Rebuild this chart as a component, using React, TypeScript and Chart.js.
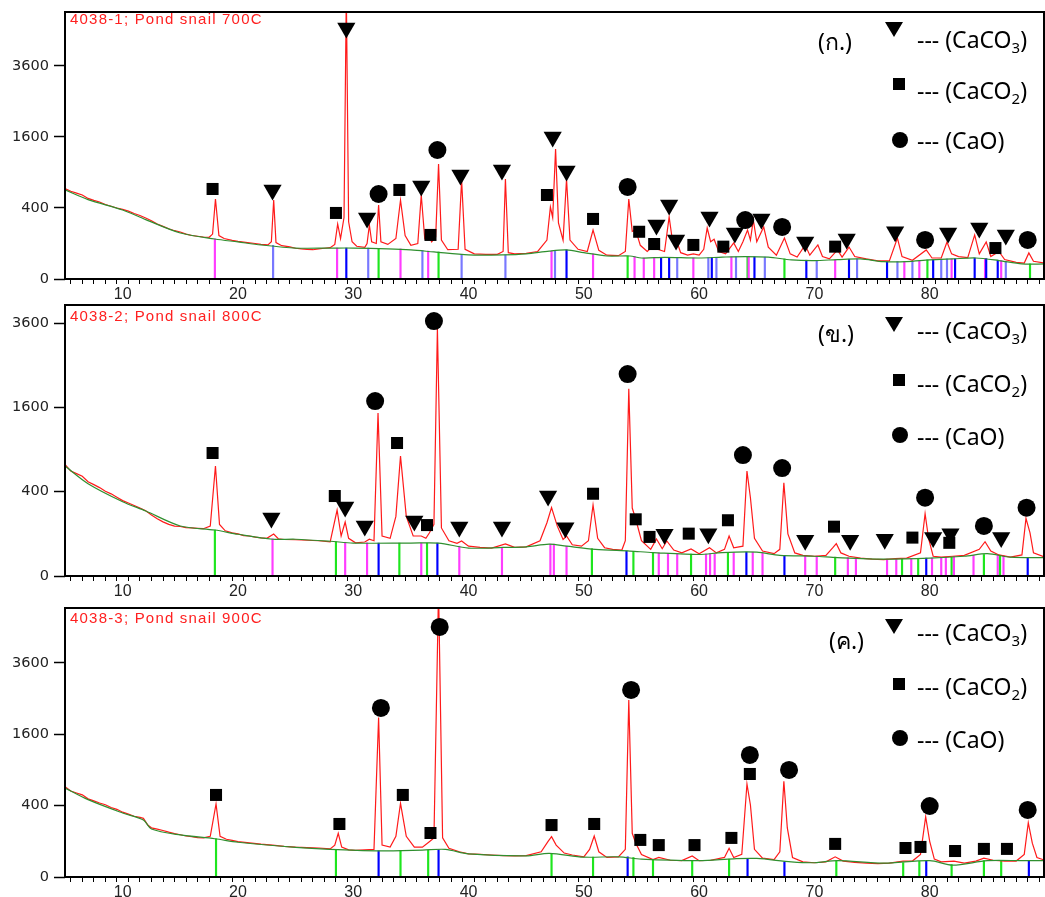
import React, { useEffect, useRef } from 'react';
import { Chart, registerables } from 'chart.js';

Chart.register(...registerables);

// ---------------- data ----------------
const xRange = [5, 90];
const xTickLabels = [10, 20, 30, 40, 50, 60, 70, 80];
const yTickLabels = [0, 400, 1600, 3600];

const sampleNames = ['4038-1; Pond snail 700C', '4038-2; Pond snail 800C', '4038-3; Pond snail 900C'];
const panelTags = ['(ก.)', '(ข.)', '(ค.)'];
const legendTexts = ['--- (CaCO', '--- (CaCO', '--- (CaO'];
const legendSubs = ['3', '2', ''];

// reference-card colours of the stick patterns
const cardColors: Record<string, string> = { M: '#ff3cff', B: '#0000ff', L: '#7878ff', G: '#1ee61e' };

// ---- 700C ----
const bg700: [number, number][] = [
  [5, 630], [7, 500], [10, 378], [12, 280], [15, 168], [18, 127], [20, 109], [22, 92], [25, 76], [28, 76], [30, 76],
  [33, 72], [35, 67], [37, 58], [40, 46], [43, 46], [45, 50], [47, 62], [48.5, 67], [50, 55], [52, 42], [54, 42],
  [55, 35], [57, 37], [60, 35], [62, 38], [64, 40], [66, 38], [68, 29], [70, 27], [72, 30], [74, 32], [76, 24],
  [78, 24], [80, 29], [82, 32], [84, 35], [86, 27], [88, 18], [90, 18],
];
const line700: [number, number][] = [
  [5, 650], [5.5, 610], [6, 585], [6.5, 560], [7, 515], [7.5, 490], [8, 470], [8.5, 440], [9, 420], [9.5, 400],
  [10, 385], [10.5, 365], [11, 340], [11.5, 320], [12, 295], [12.5, 270], [13, 240], [13.5, 220], [14, 200],
  [14.5, 185], [15, 175], [15.5, 160], [16, 150], [16.5, 145], [17, 140], [17.5, 138], [17.8, 160], [18.05, 508],
  [18.35, 150], [18.8, 130], [19.5, 118], [20, 112], [20.5, 108], [21, 104], [21.5, 100], [22, 95], [22.6, 92],
  [22.9, 110], [23.1, 495], [23.3, 105], [23.8, 88], [24.5, 82], [25, 75], [25.5, 72], [26, 70], [26.5, 68],
  [27, 72], [27.5, 75], [28, 78], [28.4, 95], [28.65, 240], [28.9, 130], [29.2, 300], [29.4, 6500], [29.6, 260],
  [29.9, 110], [30.3, 85], [31, 80], [31.2, 100], [31.4, 231], [31.6, 110], [32.0, 100], [32.2, 434], [32.4, 110],
  [33, 95], [33.7, 130], [34.1, 495], [34.5, 150], [35.0, 90], [35.6, 100], [35.9, 560], [36.2, 130], [36.5, 160],
  [36.8, 110], [37.15, 140], [37.4, 1049], [37.65, 120], [38.2, 68], [39.1, 70], [39.4, 778], [39.7, 70],
  [40.5, 50], [41.5, 48], [42.5, 48], [43.0, 60], [43.2, 793], [43.45, 55], [44, 50], [45, 52], [46, 60],
  [46.8, 120], [47.1, 411], [47.3, 300], [47.55, 1341], [47.8, 250], [48.2, 120], [48.5, 793], [48.8, 120],
  [49.5, 70], [50.3, 60], [50.8, 190], [51.3, 65], [52, 45], [53, 43], [53.6, 60], [53.9, 508], [54.2, 180],
  [54.5, 190], [54.9, 90], [55.5, 60], [56.1, 92], [56.4, 70], [57.0, 60], [57.4, 305], [57.7, 110], [58.0, 125],
  [58.4, 55], [59, 45], [59.5, 50], [60, 45], [60.4, 70], [60.7, 206], [61.0, 110], [61.3, 125], [61.7, 60],
  [62.3, 50], [63.0, 103], [63.4, 60], [63.8, 110], [64.2, 190], [64.45, 120], [64.7, 276], [65.0, 110],
  [65.6, 215], [66.0, 80], [66.7, 45], [67.4, 133], [67.9, 50], [68.5, 38], [69.2, 92], [69.6, 45], [70.3, 92],
  [70.7, 40], [71.3, 32], [72.0, 67], [72.4, 38], [73.0, 81], [73.5, 40], [74.5, 32], [75.5, 26], [76.5, 26],
  [77.2, 133], [77.6, 40], [78.5, 28], [79.7, 67], [80.2, 35], [81.0, 35], [81.5, 109], [81.9, 50], [82.5, 40],
  [83.3, 36], [83.9, 154], [84.3, 50], [84.9, 109], [85.3, 40], [86.0, 60], [86.5, 30], [87.5, 22], [88.2, 20],
  [88.6, 54], [89.0, 25], [90, 20],
];
const sticks700: [number, number, string][] = [
  [18.0, 127, 'M'], [23.05, 90, 'L'], [28.6, 76, 'M'], [29.4, 76, 'B'], [31.3, 76, 'L'], [32.2, 74, 'G'],
  [34.1, 72, 'M'], [36.0, 64, 'L'], [36.5, 62, 'M'], [37.4, 58, 'G'], [39.4, 48, 'L'], [43.2, 46, 'L'],
  [47.2, 62, 'M'], [47.5, 64, 'L'], [48.5, 67, 'B'], [50.8, 50, 'M'], [53.8, 42, 'G'], [54.4, 40, 'M'],
  [55.2, 35, 'M'], [56.1, 36, 'M'], [56.7, 37, 'B'], [57.4, 37, 'B'], [58.1, 36, 'L'], [59.5, 35, 'M'],
  [60.8, 36, 'L'], [61.1, 37, 'B'], [61.5, 37, 'L'], [62.8, 39, 'M'], [63.2, 39, 'L'], [64.2, 40, 'G'],
  [64.3, 40, 'M'], [64.8, 39, 'B'], [65.7, 38, 'L'], [67.4, 32, 'G'], [69.3, 28, 'B'], [70.2, 27, 'L'],
  [71.8, 29, 'M'], [73.0, 31, 'B'], [73.7, 32, 'L'], [76.3, 24, 'B'], [77.2, 24, 'L'], [77.8, 24, 'M'],
  [78.5, 25, 'L'], [79.1, 27, 'M'], [79.8, 29, 'G'], [80.3, 29, 'B'], [81.0, 31, 'L'], [81.5, 32, 'L'],
  [81.9, 32, 'M'], [82.2, 32, 'B'], [83.9, 35, 'B'], [84.8, 33, 'M'], [84.9, 33, 'B'], [85.9, 28, 'B'],
  [86.2, 27, 'M'], [86.6, 25, 'L'], [88.7, 18, 'G'],
];
const tri700: [number, number][] = [
  [23.0, 629], [29.4, 5000], [31.2, 295], [35.9, 686], [39.3, 858], [42.9, 942], [47.3, 1600], [48.5, 925],
  [56.3, 231], [57.4, 434], [58.0, 121], [60.9, 305], [63.1, 168], [65.4, 286], [69.2, 109], [72.8, 127],
  [77.0, 177], [81.6, 168], [84.3, 206], [86.6, 154],
];
const sq700: [number, number][] = [
  [17.8, 643], [28.5, 346], [34.0, 629], [36.7, 154], [46.8, 560], [50.8, 286], [54.8, 177], [56.1, 97],
  [59.5, 92], [62.1, 83], [71.8, 83], [85.7, 76],
];
const circ700: [number, number][] = [
  [32.2, 573], [37.3, 1320], [53.8, 672], [64.0, 276], [67.2, 215], [79.6, 121], [88.5, 121],
];

// ---- 800C ----
const bg800: [number, number][] = [
  [5, 681], [7, 480], [10, 311], [12, 238], [15, 141], [18, 119], [20, 98], [23, 76], [25, 76], [28, 68], [30, 61],
  [35, 61], [37.4, 61], [40, 44], [43, 46], [45, 48], [47, 57], [48.5, 50], [51, 40], [54, 35], [56, 31], [60, 26],
  [62, 31], [65, 32], [67, 24], [70, 22], [72, 19], [76, 16], [80, 18], [83, 22], [85, 28], [87, 20], [90, 19],
];
const line800: [number, number][] = [
  [5, 700], [5.5, 620], [6, 590], [6.5, 560], [7, 500], [7.5, 470], [8, 440], [8.5, 405], [9, 380], [9.5, 350],
  [10, 320], [10.5, 300], [11, 280], [11.5, 260], [12, 240], [12.5, 210], [13, 185], [13.5, 165], [14, 150],
  [14.5, 140], [15, 138], [15.5, 132], [16, 130], [16.5, 128], [17, 126], [17.6, 140], [18.05, 681], [18.4, 150],
  [18.9, 115], [19.5, 105], [20, 100], [20.5, 92], [21, 90], [21.5, 85], [22, 82], [22.5, 80], [23.1, 99],
  [23.5, 78], [24, 75], [25, 74], [26, 72], [27, 70], [28, 66], [28.6, 245], [28.95, 90], [29.3, 164], [29.6, 80],
  [30.2, 62], [31, 65], [31.4, 76], [31.8, 70], [32.15, 1495], [32.5, 90], [33.2, 80], [33.7, 200], [34.1, 810],
  [34.6, 200], [35.2, 90], [35.9, 90], [36.3, 80], [36.6, 104], [37.0, 150], [37.3, 3450], [37.65, 130],
  [38.3, 70], [39.0, 60], [39.4, 69], [40, 50], [41, 46], [42, 44], [43.2, 58], [44, 46], [45, 48], [46.2, 70],
  [46.8, 160], [47.2, 263], [47.7, 140], [48.2, 75], [48.5, 90], [49.0, 55], [49.8, 50], [50.4, 70], [50.8, 284],
  [51.2, 80], [51.8, 45], [52.5, 40], [53.3, 38], [53.6, 70], [53.9, 1975], [54.2, 260], [54.5, 183], [55.0, 70],
  [55.8, 40], [56.3, 77], [56.8, 42], [57.2, 69], [57.8, 38], [58.5, 30], [59.3, 41], [60, 28], [60.9, 45],
  [61.5, 30], [62.2, 40], [62.6, 90], [63.0, 45], [63.8, 50], [64.15, 620], [64.45, 345], [64.8, 80], [65.5, 35],
  [66.5, 28], [67.0, 40], [67.35, 490], [67.7, 100], [68.3, 30], [69, 24], [70, 22], [71, 24], [71.6, 45],
  [71.9, 59], [72.3, 30], [73, 22], [74, 18], [75, 16], [76, 15], [77, 17], [78, 18], [79.2, 30], [79.6, 218],
  [79.9, 80], [80.3, 22], [81, 20], [82, 22], [83, 24], [84.3, 40], [84.8, 66], [85.3, 35], [86, 25], [87, 20],
  [88.0, 25], [88.35, 187], [88.7, 105], [89.0, 30], [90, 20],
];
const sticks800: [number, number, string][] = [
  [18.0, 119, 'G'], [23.0, 78, 'M'], [28.5, 66, 'G'], [29.3, 64, 'M'], [31.2, 62, 'M'], [32.2, 61, 'B'],
  [34.0, 61, 'G'], [35.9, 61, 'M'], [36.4, 61, 'G'], [37.3, 61, 'B'], [39.2, 50, 'M'], [42.9, 45, 'M'],
  [47.1, 57, 'M'], [47.4, 57, 'M'], [48.5, 50, 'M'], [50.7, 42, 'G'], [53.7, 35, 'B'], [54.3, 34, 'G'],
  [56.0, 31, 'G'], [56.5, 30, 'M'], [57.3, 29, 'M'], [58.1, 28, 'M'], [59.3, 27, 'G'], [60.6, 27, 'M'],
  [60.95, 28, 'M'], [61.35, 28, 'M'], [62.5, 31, 'G'], [63.0, 31, 'M'], [64.1, 32, 'B'], [64.65, 32, 'M'],
  [65.5, 30, 'M'], [67.4, 24, 'B'], [69.2, 23, 'M'], [70.2, 22, 'M'], [71.8, 20, 'G'], [72.9, 19, 'M'],
  [73.6, 18, 'M'], [76.3, 16, 'M'], [77.1, 16, 'M'], [77.6, 17, 'G'], [78.4, 17, 'M'], [79.0, 17, 'G'],
  [79.7, 18, 'B'], [80.2, 18, 'M'], [81.0, 19, 'M'], [81.4, 20, 'M'], [81.9, 20, 'G'], [82.1, 21, 'M'],
  [83.8, 24, 'M'], [84.7, 26, 'G'], [85.9, 25, 'M'], [86.1, 24, 'G'], [86.4, 23, 'M'], [88.5, 19, 'B'],
];
const tri800: [number, number][] = [
  [22.9, 189], [29.3, 268], [31.0, 141], [35.3, 170], [39.2, 135], [42.9, 135], [46.9, 360], [48.4, 131],
  [57.0, 98], [60.8, 101], [69.2, 72], [73.1, 72], [76.1, 76], [80.3, 83], [81.8, 101], [86.2, 83],
];
const sq800: [number, number][] = [
  [17.8, 852], [28.4, 360], [33.8, 996], [36.4, 146], [50.8, 381], [54.5, 181], [55.7, 86], [59.1, 101],
  [62.5, 175], [71.7, 137], [78.5, 83], [81.7, 62],
];
const circ800: [number, number][] = [
  [31.9, 1723], [37.0, 3660], [53.8, 2296], [63.8, 824], [67.2, 656], [79.6, 345], [84.7, 141], [88.4, 263],
];

// ---- 900C ----
const bg900: [number, number][] = [
  [5, 622], [7, 470], [10, 322], [11.8, 255], [12.5, 181], [15, 139], [18, 115], [20, 95], [25, 69], [28, 60],
  [32, 54], [36, 57], [38, 60], [40, 42], [45, 35], [47, 44], [50, 31], [53, 32], [55, 25], [60, 21], [63, 26],
  [65, 27], [68, 18], [70, 16], [72, 21], [76, 15], [80, 21], [82, 11], [85, 21], [88, 21], [90, 21],
];
const line900: [number, number][] = [
  [5, 640], [5.5, 580], [6, 555], [6.5, 530], [7, 480], [7.5, 455], [8, 430], [8.5, 410], [9, 380], [9.5, 360],
  [10, 330], [10.5, 310], [11, 290], [11.5, 280], [11.8, 270], [12.2, 210], [12.5, 190], [13, 180], [13.5, 170],
  [14, 158], [14.5, 148], [15, 140], [15.5, 132], [16, 128], [16.5, 122], [17, 120], [17.6, 130], [18.1, 419],
  [18.45, 130], [19, 112], [19.5, 105], [20, 98], [21, 92], [22, 85], [23, 80], [24, 74], [25, 70], [26, 68],
  [27, 66], [28, 62], [28.4, 80], [28.7, 150], [29.0, 70], [29.6, 58], [30.2, 56], [31.0, 58], [31.8, 60],
  [32.2, 2000], [32.5, 80], [33.2, 70], [33.7, 130], [34.1, 427], [34.6, 130], [35.3, 70], [36.0, 70], [36.6, 98],
  [37.0, 120], [37.4, 6500], [37.75, 120], [38.3, 65], [39.2, 50], [40, 42], [41, 40], [42, 38], [43, 36],
  [44, 35], [45, 36], [46.3, 50], [46.9, 100], [47.2, 128], [47.6, 80], [48.3, 45], [49, 38], [50, 32],
  [50.5, 60], [50.9, 132], [51.3, 50], [52, 30], [53, 32], [53.6, 60], [53.9, 2460], [54.2, 150], [54.5, 91],
  [55, 40], [56, 24], [56.5, 30], [57.5, 22], [58.5, 21], [59.4, 35], [60, 21], [61, 22], [62.2, 30], [62.6, 65],
  [63.0, 30], [63.7, 40], [64.15, 680], [64.45, 407], [64.8, 60], [65.5, 28], [66.5, 24], [67.0, 50],
  [67.35, 720], [67.65, 189], [68.1, 30], [69, 18], [70, 16], [71, 18], [71.8, 32], [72.5, 20], [73.5, 17],
  [74.5, 15], [75.5, 14], [76.5, 15], [77.7, 20], [78.5, 20], [79.2, 40], [79.65, 286], [80.0, 100], [80.4, 25],
  [81, 18], [82.1, 20], [83, 15], [84, 20], [84.7, 28], [85.5, 22], [86.5, 20], [87.5, 20], [88.2, 40],
  [88.55, 232], [88.9, 90], [89.3, 30], [90, 22],
];
const sticks900: [number, number, string][] = [
  [18.1, 115, 'G'], [28.5, 60, 'G'], [32.2, 54, 'B'], [34.1, 55, 'G'], [36.5, 57, 'G'], [37.4, 58, 'B'],
  [47.2, 44, 'G'], [50.8, 31, 'G'], [53.8, 32, 'B'], [54.3, 30, 'G'], [56.0, 24, 'G'], [59.4, 21, 'G'],
  [62.6, 25, 'G'], [64.2, 27, 'B'], [67.4, 18, 'B'], [71.9, 20, 'G'], [77.7, 16, 'G'], [79.1, 19, 'G'],
  [79.7, 20, 'B'], [81.9, 12, 'G'], [84.7, 21, 'G'], [86.2, 21, 'G'], [88.6, 21, 'B'],
];
const tri900: [number, number][] = [];
const sq900: [number, number][] = [
  [18.1, 529], [28.8, 221], [34.3, 529], [36.7, 152], [47.2, 212], [50.9, 221], [54.9, 108], [56.5, 80],
  [59.6, 80], [62.8, 120], [64.4, 834], [71.8, 86], [77.9, 66], [79.2, 71], [82.2, 53], [84.7, 62], [86.7, 62],
];
const circ900: [number, number][] = [
  [32.4, 2245], [37.5, 4912], [54.1, 2748], [64.4, 1170], [67.8, 900], [80.0, 396], [88.5, 353],
];

// ---------------- layout ----------------
const panels = [
  {
    name: sampleNames[0], tag: panelTags[0], line: line700, bg: bg700, sticks: sticks700, tri: tri700, sq: sq700, circ: circ700,
    top: 0, height: 300, padTop: 12, axisH: 21, yMax: 75.2,
    labelTop: 10, tagLeft: 818, tagCy: 41, rowCy: [39, 90, 140], markCy: [29, 84, 140],
  },
  {
    name: sampleNames[1], tag: panelTags[1], line: line800, bg: bg800, sticks: sticks800, tri: tri800, sq: sq800, circ: circ800,
    top: 300, height: 300, padTop: 5, axisH: 24, yMax: 64.3,
    labelTop: 307, tagLeft: 818, tagCy: 333, rowCy: [330, 383, 436], markCy: [324, 380, 435],
  },
  {
    name: sampleNames[2], tag: panelTags[2], line: line900, bg: bg900, sticks: sticks900, tri: tri900, sq: sq900, circ: circ900,
    top: 600, height: 297, padTop: 8, axisH: 20, yMax: 75.4,
    labelTop: 609, tagLeft: 829, tagCy: 640, rowCy: [632, 686, 739], markCy: [626, 684, 738],
  },
];

const toSqrt = (pairs: [number, number][]) => pairs.map(([x, v]) => ({ x, y: Math.sqrt(v) }));

const frame = {
  id: 'frame',
  afterDatasetsDraw(chart: any) {
    const { ctx, chartArea: a } = chart;
    ctx.save();
    ctx.strokeStyle = '#000';
    ctx.lineWidth = 2;
    ctx.strokeRect(a.left, a.top, a.right - a.left - 1, a.bottom - a.top);
    ctx.restore();
  },
};

const xTickFont = { family: '"Liberation Sans", Arial, sans-serif', size: 16 };
const yTickFont = { family: '"DejaVu Sans", "Liberation Sans", sans-serif', size: 14.5 };

function Panel({ p }: { p: any }) {
  const ref = useRef<HTMLCanvasElement>(null);
  useEffect(() => {
    const minorTicks: number[] = [];
    for (let v = xRange[0]; v <= xRange[1]; v++) minorTicks.push(v);
    const chart = new Chart(ref.current as HTMLCanvasElement, {
      type: 'line',
      data: {
        datasets: [
          { type: 'scatter', data: toSqrt(p.tri), pointStyle: 'triangle', pointRotation: 180, pointRadius: 10.5, pointBackgroundColor: '#000', pointBorderWidth: 0, pointBorderColor: '#000' },
          { type: 'scatter', data: toSqrt(p.sq), pointStyle: 'rect', pointRadius: 8.5, pointBackgroundColor: '#000', pointBorderWidth: 0, pointBorderColor: '#000' },
          { type: 'scatter', data: toSqrt(p.circ), pointStyle: 'circle', pointRadius: 9, pointBackgroundColor: '#000', pointBorderWidth: 0, pointBorderColor: '#000' },
          { type: 'line', data: toSqrt(p.bg), borderColor: '#2f8f2f', borderWidth: 1.2, pointRadius: 0, tension: 0.3 },
          { type: 'line', data: toSqrt(p.line), borderColor: '#ff1a1a', borderWidth: 1.2, pointRadius: 0, tension: 0 },
          {
            type: 'bar',
            data: p.sticks.map((s: [number, number, string]) => ({ x: s[0], y: [0, Math.sqrt(s[1])] })),
            backgroundColor: p.sticks.map((s: [number, number, string]) => cardColors[s[2]]),
            barThickness: 1.5,
            borderWidth: 0,
            grouped: false,
          },
        ] as any,
      },
      options: {
        animation: false,
        responsive: false,
        events: [],
        layout: { autoPadding: false, padding: { top: p.padTop, left: 0, right: 0, bottom: 0 } },
        plugins: { legend: { display: false }, tooltip: { enabled: false } },
        scales: {
          x: {
            type: 'linear', min: xRange[0], max: xRange[1], offset: false,
            afterBuildTicks: (s: any) => { s.ticks = minorTicks.map((v) => ({ value: v })); },
            afterFit: (s: any) => { s.height = p.axisH; s.paddingLeft = 0; s.paddingRight = 0; },
            ticks: {
              autoSkip: false, maxRotation: 0, padding: 1, color: '#222', font: xTickFont,
              callback: (v: any) => (xTickLabels.includes(v) ? String(v) : ''),
            },
            grid: { drawOnChartArea: false, tickLength: 5, tickColor: '#000', tickWidth: 1 },
            border: { display: false },
          },
          y: {
            type: 'linear', min: 0, max: p.yMax,
            afterBuildTicks: (s: any) => { s.ticks = yTickLabels.map((v) => ({ value: Math.sqrt(v) })); },
            afterFit: (s: any) => { s.width = 65; s.paddingTop = 0; s.paddingBottom = 0; },
            ticks: {
              autoSkip: false, padding: 5, color: '#222', font: yTickFont,
              callback: (v: any) => String(Math.round(v * v)),
            },
            grid: { drawOnChartArea: false, tickLength: 11, tickColor: '#000', tickWidth: 1.5 },
            border: { display: false },
          },
        },
      } as any,
      plugins: [frame],
    });
    return () => chart.destroy();
  }, []);
  return (
    <canvas ref={ref} width={1045} height={p.height}
      style={{ position: 'absolute', left: 0, top: p.top, width: 1045, height: p.height, display: 'block' }} />
  );
}

const legendFont = '"Noto Sans", "Open Sans", sans-serif';

function Marker({ shape, cx, cy }: { shape: number; cx: number; cy: number }) {
  if (shape === 0) {
    return <div style={{ position: 'absolute', left: cx - 9, top: cy - 7, width: 0, height: 0, borderLeft: '9px solid transparent', borderRight: '9px solid transparent', borderTop: '15px solid #000' }} />;
  }
  if (shape === 1) {
    return <div style={{ position: 'absolute', left: cx - 6, top: cy - 6, width: 12, height: 12, background: '#000' }} />;
  }
  return <div style={{ position: 'absolute', left: cx - 8, top: cy - 8, width: 16, height: 16, borderRadius: '50%', background: '#000' }} />;
}

function Overlay({ p }: { p: any }) {
  const markX = [894, 899, 900];
  return (
    <>
      <div style={{ position: 'absolute', left: 70, top: p.labelTop, color: '#ff2020', fontFamily: '"Liberation Sans", Arial, sans-serif', fontSize: 15, letterSpacing: 1.2, lineHeight: '18px', whiteSpace: 'nowrap' }}>
        {p.name}
      </div>
      <div style={{ position: 'absolute', left: p.tagLeft, top: p.tagCy - 15, fontFamily: legendFont, fontSize: 23, lineHeight: '30px', color: '#000', whiteSpace: 'nowrap' }}>
        {p.tag}
      </div>
      {legendTexts.map((t, i) => (
        <React.Fragment key={i}>
          <Marker shape={i} cx={markX[i]} cy={p.markCy[i]} />
          <div style={{ position: 'absolute', left: 917, top: p.rowCy[i] - 15, fontFamily: legendFont, fontSize: 23, lineHeight: '30px', color: '#000', whiteSpace: 'nowrap' }}>
            {t}
            {legendSubs[i] ? <span style={{ fontSize: 15, position: 'relative', top: 5 }}>{legendSubs[i]}</span> : null})
          </div>
        </React.Fragment>
      ))}
    </>
  );
}

export default function App() {
  return (
    <div style={{ position: 'absolute', left: 0, top: 0, width: 1045, height: 897, background: '#fff', overflow: 'hidden' }}>
      {panels.map((p, i) => <Panel key={i} p={p} />)}
      {panels.map((p, i) => <Overlay key={'o' + i} p={p} />)}
    </div>
  );
}
